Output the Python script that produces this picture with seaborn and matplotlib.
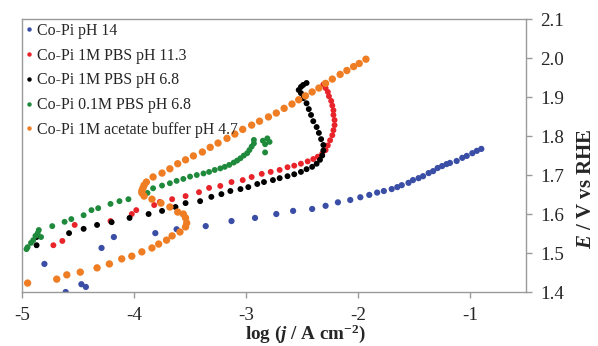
"""Tafel plot of Co-Pi films in various electrolytes (seaborn scatter)."""
import matplotlib

matplotlib.use("Agg")

import matplotlib.pyplot as plt
import pandas as pd
import seaborn as sns

sns.set_style("white")
plt.rcParams["font.family"] = ["Liberation Serif", "DejaVu Serif"]
plt.rcParams["mathtext.fontset"] = "custom"
plt.rcParams["mathtext.rm"] = "Liberation Serif:bold"
plt.rcParams["mathtext.it"] = "Liberation Serif:italic:bold"
plt.rcParams["mathtext.bf"] = "Liberation Serif:bold"
plt.rcParams["axes.unicode_minus"] = False

# --- data (log j vs E) ---
ph14_x = [-4.80, -4.61, -4.47, -4.43, -4.29, -4.18, -3.81, -3.62, -3.36, -3.13, -2.92,
          -2.73, -2.58, -2.41, -2.29, -2.18, -2.07, -1.98, -1.90, -1.83, -1.77, -1.70,
          -1.65, -1.61, -1.55, -1.51, -1.46, -1.42, -1.37, -1.33, -1.29, -1.25, -1.21,
          -1.18, -1.12, -1.07, -1.03, -0.98, -0.94, -0.90]
ph14_y = [1.472, 1.400, 1.420, 1.413, 1.513, 1.541, 1.551, 1.561, 1.569, 1.582, 1.590,
          1.600, 1.608, 1.613, 1.621, 1.630, 1.636, 1.643, 1.649, 1.655, 1.659, 1.664,
          1.669, 1.674, 1.680, 1.687, 1.692, 1.697, 1.705, 1.710, 1.718, 1.723, 1.728,
          1.731, 1.736, 1.744, 1.749, 1.756, 1.762, 1.767]

pbs113_x = [-4.72, -4.64, -4.53, -4.21, -4.02, -3.98, -3.82, -3.77, -3.66, -3.54, -3.42,
            -3.33, -3.23, -3.13, -3.03, -2.95, -2.86, -2.78, -2.70, -2.63, -2.57, -2.51,
            -2.45, -2.40, -2.36, -2.32, -2.29, -2.27, -2.25, -2.23, -2.22, -2.21, -2.21,
            -2.22, -2.22, -2.23, -2.24, -2.26, -2.27, -2.29, -2.31]
pbs113_y = [1.520, 1.531, 1.572, 1.582, 1.600, 1.610, 1.623, 1.631, 1.638, 1.646, 1.656,
            1.667, 1.672, 1.682, 1.687, 1.695, 1.703, 1.708, 1.713, 1.720, 1.724, 1.729,
            1.735, 1.741, 1.747, 1.755, 1.764, 1.776, 1.789, 1.802, 1.815, 1.828, 1.841,
            1.854, 1.866, 1.878, 1.890, 1.902, 1.913, 1.923, 1.932]

pbs68_x = [-4.87, -4.87, -4.58, -4.45, -4.33, -4.20, -4.04, -3.87, -3.75, -3.63, -3.54,
           -3.41, -3.31, -3.22, -3.14, -3.05, -2.98, -2.90, -2.84, -2.76, -2.70, -2.63,
           -2.57, -2.51, -2.46, -2.41, -2.37, -2.34, -2.32, -2.31, -2.31, -2.33, -2.35,
           -2.37, -2.40, -2.42, -2.44, -2.46, -2.49, -2.51, -2.53, -2.51, -2.49, -2.46]
pbs68_y = [1.520, 1.541, 1.551, 1.562, 1.572, 1.579, 1.590, 1.600, 1.608, 1.618, 1.628,
           1.633, 1.644, 1.651, 1.659, 1.664, 1.669, 1.677, 1.682, 1.687, 1.692, 1.697,
           1.702, 1.708, 1.715, 1.721, 1.729, 1.739, 1.750, 1.763, 1.777, 1.792, 1.808,
           1.823, 1.838, 1.854, 1.869, 1.884, 1.897, 1.910, 1.918, 1.926, 1.931, 1.936]

pbs01_x = [-4.96, -4.95, -4.92, -4.90, -4.88, -4.86, -4.85, -4.83, -4.73, -4.62, -4.56,
           -4.45, -4.38, -4.32, -4.21, -4.13, -4.05, -3.88, -3.83, -3.75, -3.68, -3.62,
           -3.56, -3.50, -3.44, -3.38, -3.33, -3.28, -3.23, -3.19, -3.15, -3.11, -3.08,
           -3.05, -3.02, -2.99, -2.97, -2.95, -2.93, -2.93, -2.85, -2.83, -2.81, -2.79,
           -2.83]
pbs01_y = [1.510, 1.515, 1.526, 1.533, 1.544, 1.551, 1.559, 1.541, 1.569, 1.580, 1.587,
           1.597, 1.610, 1.615, 1.626, 1.633, 1.638, 1.654, 1.666, 1.673, 1.679, 1.685,
           1.690, 1.696, 1.700, 1.704, 1.708, 1.713, 1.717, 1.721, 1.726, 1.732, 1.737,
           1.743, 1.750, 1.756, 1.764, 1.773, 1.781, 1.790, 1.788, 1.779, 1.794, 1.785,
           1.758]

acet_x = [-4.95, -4.69, -4.60, -4.48, -4.33, -4.22, -4.11, -4.02, -3.93, -3.84, -3.78,
          -3.71, -3.66, -3.59, -3.54, -3.53, -3.54, -3.56, -3.61, -3.68, -3.76, -3.84,
          -3.91, -3.93, -3.93, -3.92, -3.91, -3.89, -3.83, -3.75, -3.68, -3.61, -3.54,
          -3.47, -3.39, -3.32, -3.25, -3.17, -3.10, -3.03, -2.95, -2.88, -2.80, -2.73,
          -2.66, -2.59, -2.53, -2.47, -2.41, -2.35, -2.29, -2.23, -2.16, -2.10, -2.04,
          -1.99, -1.93]
acet_y = [1.423, 1.433, 1.444, 1.451, 1.462, 1.472, 1.485, 1.492, 1.503, 1.513, 1.523,
          1.533, 1.544, 1.554, 1.567, 1.577, 1.590, 1.600, 1.605, 1.618, 1.628, 1.638,
          1.646, 1.654, 1.660, 1.667, 1.674, 1.682, 1.695, 1.705, 1.716, 1.729, 1.739,
          1.749, 1.759, 1.771, 1.782, 1.794, 1.805, 1.817, 1.828, 1.838, 1.849, 1.859,
          1.871, 1.882, 1.893, 1.903, 1.913, 1.923, 1.935, 1.946, 1.958, 1.968, 1.978,
          1.986, 1.997]

series = [
    ("Co-Pi pH 14", ph14_x, ph14_y, "#3a4ea6", 20),
    ("Co-Pi 1M PBS pH 11.3", pbs113_x, pbs113_y, "#e8242a", 18),
    ("Co-Pi 1M PBS pH 6.8", pbs68_x, pbs68_y, "#000000", 18),
    ("Co-Pi 0.1M PBS pH 6.8", pbs01_x, pbs01_y, "#1f8a3c", 18),
    ("Co-Pi 1M acetate buffer pH 4.7", acet_x, acet_y, "#ee7d24", 28),
]

df = pd.concat(
    [pd.DataFrame({"logj": x, "E": y, "sample": name}) for name, x, y, _, _ in series],
    ignore_index=True,
)
palette = {name: c for name, _, _, c, _ in series}
sizes = {name: s for name, _, _, _, s in series}

fig = plt.figure(figsize=(5.98, 3.46), dpi=100)
ax = fig.add_axes([0.0368, 0.156, 0.843, 0.789])

sns.scatterplot(data=df, x="logj", y="E", hue="sample", palette=palette,
                size="sample", sizes=sizes, linewidth=0, ax=ax)

ax.set_xlim(-5, -0.5)
ax.set_ylim(1.4, 2.1)
ax.set_xticks([-5, -4, -3, -2, -1])
ax.set_yticks([1.4, 1.5, 1.6, 1.7, 1.8, 1.9, 2.0, 2.1])
ax.set_yticklabels([f"{v:.1f}" for v in ax.get_yticks()])
ax.yaxis.tick_right()
ax.yaxis.set_label_position("right")

for sp in ax.spines.values():
    sp.set_color("#9a9a9a")
    sp.set_linewidth(1.0)
ax.tick_params(axis="both", direction="out", length=4, width=1, color="#9a9a9a",
               labelsize=13.7)
ax.tick_params(axis="x", bottom=True, top=False, pad=7)
ax.tick_params(axis="y", right=True, left=False, pad=6)

ax.set_xlabel(r"log ($\mathit{j}$ / A cm$^{\mathbf{-2}}$)", fontsize=13.8,
              fontweight="bold")
ax.xaxis.set_label_coords(0.563, -0.112)
ax.set_ylabel(r"$\mathit{E}$ / V vs RHE", fontsize=15, fontweight="bold")
ax.yaxis.set_label_coords(1.098, 0.38)

handles, labels = ax.get_legend_handles_labels()
for h in handles:
    h.set_markersize(3.2)
ax.legend(handles, labels, loc="upper left", frameon=False, fontsize=11.4,
          handletextpad=0.31, handlelength=0.4, labelspacing=0.55,
          borderaxespad=0.1, borderpad=0.15,
          bbox_to_anchor=(0.0, 1.0))

fig.savefig("out.png", dpi=100)
plt.close(fig)
